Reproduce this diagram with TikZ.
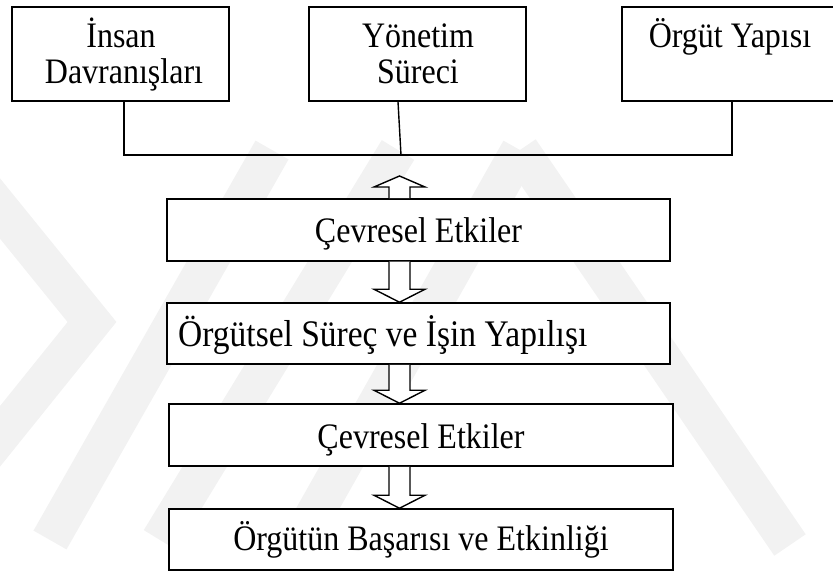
\documentclass[tikz,border=0pt]{standalone}
\usepackage{fontspec}
\setmainfont{Liberation Serif}
\usetikzlibrary{calc}
\newcommand\tallt[1]{\scalebox{1}[1.12]{#1}}
\tikzset{
  box/.style={draw=black, line width=1.5pt, fill=white, inner sep=0pt},
  lbl/.style={anchor=base, inner sep=0pt, font=\fontsize{32}{36}\selectfont},
  conn/.style={draw=black, line width=1.4pt},
  barrow/.style={draw=black, line width=1.4pt, fill=white, line join=miter},
  wm/.style={draw=black!5, line width=38pt, line cap=butt, line join=miter}
}
\begin{document}
\begin{tikzpicture}[x=1pt, y=-1pt]
\useasboundingbox (0,0) rectangle (833,572);
% faint watermark
\begin{scope}
\clip (0,0) rectangle (833,572);
\draw[wm] (-15,190) -- (92,322) -- (-15,455);
\draw[wm] (50,540) -- (272,150);
\draw[wm] (160,540) -- (398,150);
\draw[wm] (300,540) -- (520,150);
\draw[wm] (520,150) -- (790,545);
\end{scope}
% top boxes
\node[box, minimum width=217pt, minimum height=94pt] (b1) at (120.5,54) {};
\node[box, minimum width=217pt, minimum height=94pt] (b2) at (417.5,54) {};
\node[box, minimum width=217pt, minimum height=94pt] (b3) at (730.5,54) {};
\node[lbl] (t1a) at (121,48) {\tallt{İnsan}};
\node[lbl] (t1b) at (124,84) {\tallt{Davranışları}};
\node[lbl] (t2a) at (418,48) {\tallt{Yönetim}};
\node[lbl] (t2b) at (418,84) {\tallt{Süreci}};
\node[lbl] (t3a) at (730,48) {\tallt{Örgüt Yapısı}};
% connectors
\coordinate (j) at (401,155);
\draw[conn] ([xshift=3.5pt]b1.south) |- (j) -| ([xshift=1.5pt]b3.south);
\draw[conn] ([xshift=-19.5pt]b2.south) -- (j);
% lower boxes
\node[box, minimum width=503pt, minimum height=62pt] (c1) at (418.5,230) {};
\node[box, minimum width=503pt, minimum height=61pt] (c2) at (418.5,333.5) {};
\node[box, minimum width=504pt, minimum height=62pt] (c3) at (421,435) {};
\node[box, minimum width=504pt, minimum height=61pt] (c4) at (421,539.5) {};
\node[lbl] (u1) at (418.5,243) {\tallt{Çevresel Etkiler}};
\node[lbl, anchor=base west, font=\fontsize{33.5}{38}\selectfont] (u2) at (178,346) {\tallt{Örgütsel Süreç ve İşin Yapılışı}};
\node[lbl] (u3) at (421,448) {\tallt{Çevresel Etkiler}};
\node[lbl] (u4) at (421,550) {\tallt{Örgütün Başarısı ve Etkinliği}};
% block arrows
\coordinate (ax) at (399.5,0);
\coordinate (uptip) at (399.5,176);
\draw[barrow] ($(ax |- c1.north)+(-10.5,0)$) -- ($(uptip)+(-10.5,11)$) -- ($(uptip)+(-25.5,11)$) -- (uptip)
  -- ($(uptip)+(25.5,11)$) -- ($(uptip)+(10.5,11)$) -- ($(ax |- c1.north)+(10.5,0)$);
\newcommand\dnarr[2]{%
  \draw[barrow] ($(ax |- #1.south)+(-10.5,0)$) -- ($(ax |- #2.north)+(-10.5,-13)$) -- ($(ax |- #2.north)+(-25.5,-13)$)
    -- (ax |- #2.north) -- ($(ax |- #2.north)+(25.5,-13)$) -- ($(ax |- #2.north)+(10.5,-13)$) -- ($(ax |- #1.south)+(10.5,0)$);}
\dnarr{c1}{c2}
\dnarr{c2}{c3}
\dnarr{c3}{c4}
\end{tikzpicture}
\end{document}
